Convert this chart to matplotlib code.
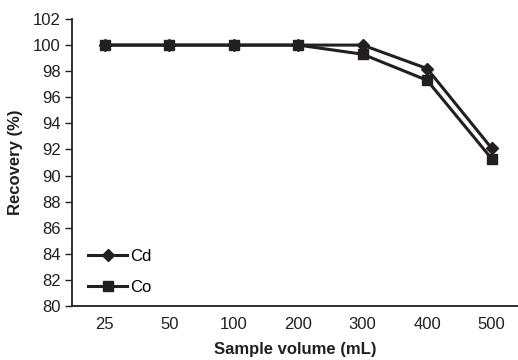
import matplotlib
matplotlib.use("Agg")
import matplotlib.pyplot as plt

volumes = ["25", "50", "100", "200", "300", "400", "500"]
cd_recovery = [100, 100, 100, 100, 100, 98.2, 92.1]
co_recovery = [100, 100, 100, 100, 99.3, 97.3, 91.3]

plt.rcParams['font.family'] = ['Liberation Sans', 'DejaVu Sans']
ink = "#231f20"

fig = plt.figure(figsize=(5.18, 3.6), dpi=100)
ax = fig.add_axes([72 / 518, 1 - 306 / 360, (518 - 72) / 518, (306 - 19) / 360])

x = list(range(len(volumes)))
ax.plot(x, cd_recovery, color=ink, lw=2.2, marker="D", ms=6.5, label="Cd")
ax.plot(x, co_recovery, color=ink, lw=2.2, marker="s", ms=7.5, label="Co")

ax.set_xlim(-0.51, 6.41)
ax.set_ylim(80, 102)
ax.set_yticks(range(80, 103, 2))
ax.set_xticks(x)
ax.set_xticklabels(volumes)
ax.tick_params(axis="x", length=0, pad=8, labelsize=12, colors=ink)
ax.tick_params(axis="y", length=5, width=1, direction="out", pad=3, labelsize=12, colors=ink)

for side in ["top", "right"]:
    ax.spines[side].set_visible(False)
for side in ["left", "bottom"]:
    ax.spines[side].set_linewidth(1.3)
    ax.spines[side].set_color(ink)

ax.set_xlabel("Sample volume (mL)", fontsize=12, fontweight="bold", labelpad=7, color=ink)
ax.set_ylabel("Recovery (%)", fontsize=12, fontweight="bold", labelpad=7, color=ink)

ax.legend(loc="center left", bbox_to_anchor=(16 / 446, 34 / 287), frameon=False, fontsize=12,
          handlelength=2.35, handletextpad=0.2, labelspacing=0.95,
          borderaxespad=0, borderpad=0)

fig.savefig("out.png", dpi=100)
